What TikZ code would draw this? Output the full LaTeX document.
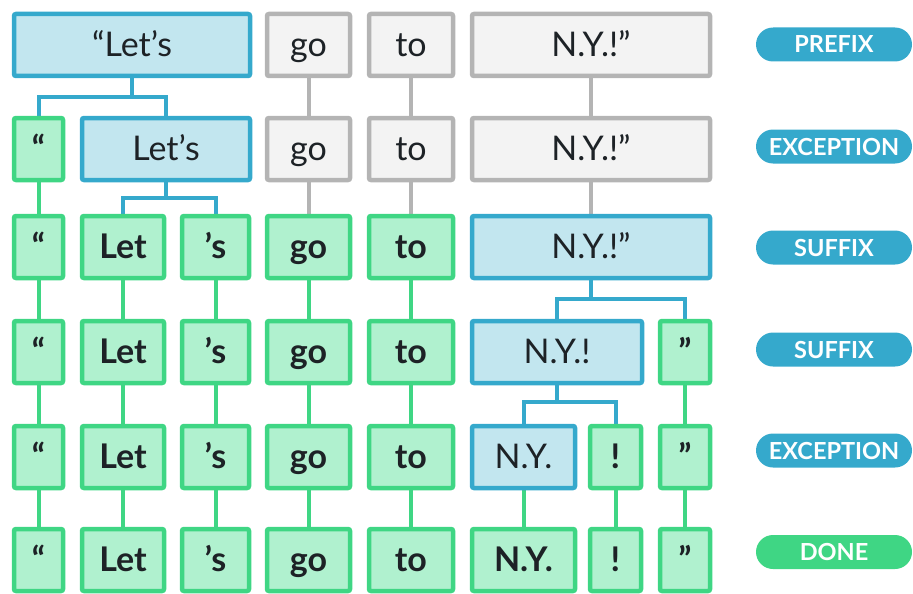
\documentclass[tikz,border=0pt]{standalone}
\usepackage{fontspec}
\setmainfont{Lato}
\usetikzlibrary{calc}
\definecolor{bblue}{HTML}{35A9CC}
\definecolor{bfill}{HTML}{C2E6EF}
\definecolor{ggreen}{HTML}{3FD684}
\definecolor{gfill}{HTML}{B0F1CF}
\definecolor{ggray}{HTML}{B4B4B4}
\definecolor{gyfill}{HTML}{F3F3F3}
\definecolor{ink}{HTML}{1D2226}
\pgfdeclarelayer{bg}
\pgfsetlayers{bg,main}
\tikzset{
  box/.style={rectangle, rounded corners=2pt, line width=4.5pt, inner sep=0pt,
    minimum height=62pt, text=ink, text height=24pt, text depth=1pt,
    font=\fontsize{34}{40}\selectfont},
  bluebox/.style={box, draw=bblue, fill=bfill},
  graybox/.style={box, draw=ggray, fill=gyfill},
  greenbox/.style={box, draw=ggreen, fill=gfill, font=\fontsize{34}{40}\selectfont\bfseries},
  pill/.style={rectangle, rounded corners=17pt, minimum width=156pt, minimum height=34pt,
    inner sep=0pt, text=white, text height=17pt, text depth=0pt,
    font=\fontsize{23.5}{26}\selectfont\bfseries},
  bluepill/.style={pill, fill=bblue},
  greenpill/.style={pill, fill=ggreen},
  blink/.style={draw=bblue, line width=4pt},
  glink/.style={draw=ggreen, line width=4pt},
  ylink/.style={draw=ggray, line width=4pt},
}
\begin{document}
\begin{tikzpicture}[x=1pt,y=-1pt]
\useasboundingbox (0,0) rectangle (913,594);
% row 1
\node[bluebox, minimum width=236pt] (L1) at (132,45) {“Let’s};
\node[graybox, minimum width=83pt] (go1) at (308.5,45) {go};
\node[graybox, minimum width=84pt] (to1) at (411,45) {to};
\node[graybox, minimum width=238pt] (ny1) at (591,45) {N.Y.!”};
\node[bluepill] (p1) at (834,44.5) {PREFIX};
% row 2
\node[greenbox, minimum width=49pt] (q2) at (38.5,149) {“};
\node[bluebox, minimum width=168pt] (L2) at (166,149) {Let’s};
\node[graybox, minimum width=83pt] (go2) at (308.5,149) {go};
\node[graybox, minimum width=84pt] (to2) at (411,149) {to};
\node[graybox, minimum width=238pt] (ny2) at (591,149) {N.Y.!”};
\node[bluepill] (p2) at (834,146.5) {EXCEPTION};
% row 3
\node[greenbox, minimum width=49pt] (q3) at (38.5,247) {“};
\node[greenbox, minimum width=82pt] (let3) at (123,247) {Let};
\node[greenbox, minimum width=67pt] (s3) at (215.5,247) {’s};
\node[greenbox, minimum width=83pt] (go3) at (308.5,247) {go};
\node[greenbox, minimum width=84pt] (to3) at (411,247) {to};
\node[bluebox, minimum width=238pt] (ny3) at (591,247) {N.Y.!”};
\node[bluepill] (p3) at (834,247.5) {SUFFIX};
% row 4
\node[greenbox, minimum width=49pt] (q4) at (38.5,352) {“};
\node[greenbox, minimum width=82pt] (let4) at (123,352) {Let};
\node[greenbox, minimum width=67pt] (s4) at (215.5,352) {’s};
\node[greenbox, minimum width=83pt] (go4) at (308.5,352) {go};
\node[greenbox, minimum width=84pt] (to4) at (411,352) {to};
\node[bluebox, minimum width=170pt] (nyb4) at (557,352) {N.Y.!};
\node[greenbox, minimum width=50pt] (rq4) at (685,352) {”};
\node[bluepill] (p4) at (834,349.5) {SUFFIX};
% row 5
\node[greenbox, minimum width=49pt] (q5) at (38.5,457) {“};
\node[greenbox, minimum width=82pt] (let5) at (123,457) {Let};
\node[greenbox, minimum width=67pt] (s5) at (215.5,457) {’s};
\node[greenbox, minimum width=83pt] (go5) at (308.5,457) {go};
\node[greenbox, minimum width=84pt] (to5) at (411,457) {to};
\node[bluebox, minimum width=103pt] (ny5) at (523.5,457) {N.Y.};
\node[greenbox, minimum width=51pt] (ex5) at (615.5,457) {!};
\node[greenbox, minimum width=50pt] (rq5) at (685,457) {”};
\node[bluepill] (p5) at (834,450.5) {EXCEPTION};
% row 6
\node[greenbox, minimum width=49pt] (q6) at (38.5,560) {“};
\node[greenbox, minimum width=82pt] (let6) at (123,560) {Let};
\node[greenbox, minimum width=67pt] (s6) at (215.5,560) {’s};
\node[greenbox, minimum width=83pt] (go6) at (308.5,560) {go};
\node[greenbox, minimum width=84pt] (to6) at (411,560) {to};
\node[greenbox, minimum width=103pt] (ny6) at (523.5,560) {N.Y.};
\node[greenbox, minimum width=51pt] (ex6) at (615.5,560) {!};
\node[greenbox, minimum width=50pt] (rq6) at (685,560) {”};
\node[greenpill] (p6) at (834,552) {DONE};
\begin{pgfonlayer}{bg}
  % gray pass-through links
  \draw[ylink] (go1) -- (go2);
  \draw[ylink] (to1) -- (to2);
  \draw[ylink] (ny1) -- (ny2);
  \draw[ylink] (go2) -- (go3);
  \draw[ylink] (to2) -- (to3);
  \draw[ylink] (ny2) -- (ny3);
  % blue splits
  \coordinate (s1) at ($(L1.south)+(0,19)$);
  \draw[blink] (L1.south) -- (s1);
  \draw[blink] (q2.north) |- (s1) -| (L2.north);
  \coordinate (s2) at ($(L2.south)+(0,16)$);
  \draw[blink] (L2.south) -- (s2);
  \draw[blink] (let3.north) |- (s2) -| (s3.north);
  \coordinate (s3b) at ($(ny3.south)+(0,19)$);
  \draw[blink] (ny3.south) -- (s3b);
  \draw[blink] (nyb4.north) |- (s3b) -| (rq4.north);
  \coordinate (s4b) at ($(nyb4.south)+(0,17)$);
  \draw[blink] (nyb4.south) -- (s4b);
  \draw[blink] (ny5.north) |- (s4b) -| (ex5.north);
  % green pass-through links
  \draw[glink] (q2) -- (q3);
  \foreach \n in {q,let,s,go,to}{
    \draw[glink] (\n3) -- (\n4);
    \draw[glink] (\n4) -- (\n5);
    \draw[glink] (\n5) -- (\n6);
  }
  \draw[glink] (rq4) -- (rq5);
  \draw[glink] (rq5) -- (rq6);
  \draw[glink] (ny5) -- (ny6);
  \draw[glink] (ex5) -- (ex6);
\end{pgfonlayer}
\end{tikzpicture}
\end{document}
